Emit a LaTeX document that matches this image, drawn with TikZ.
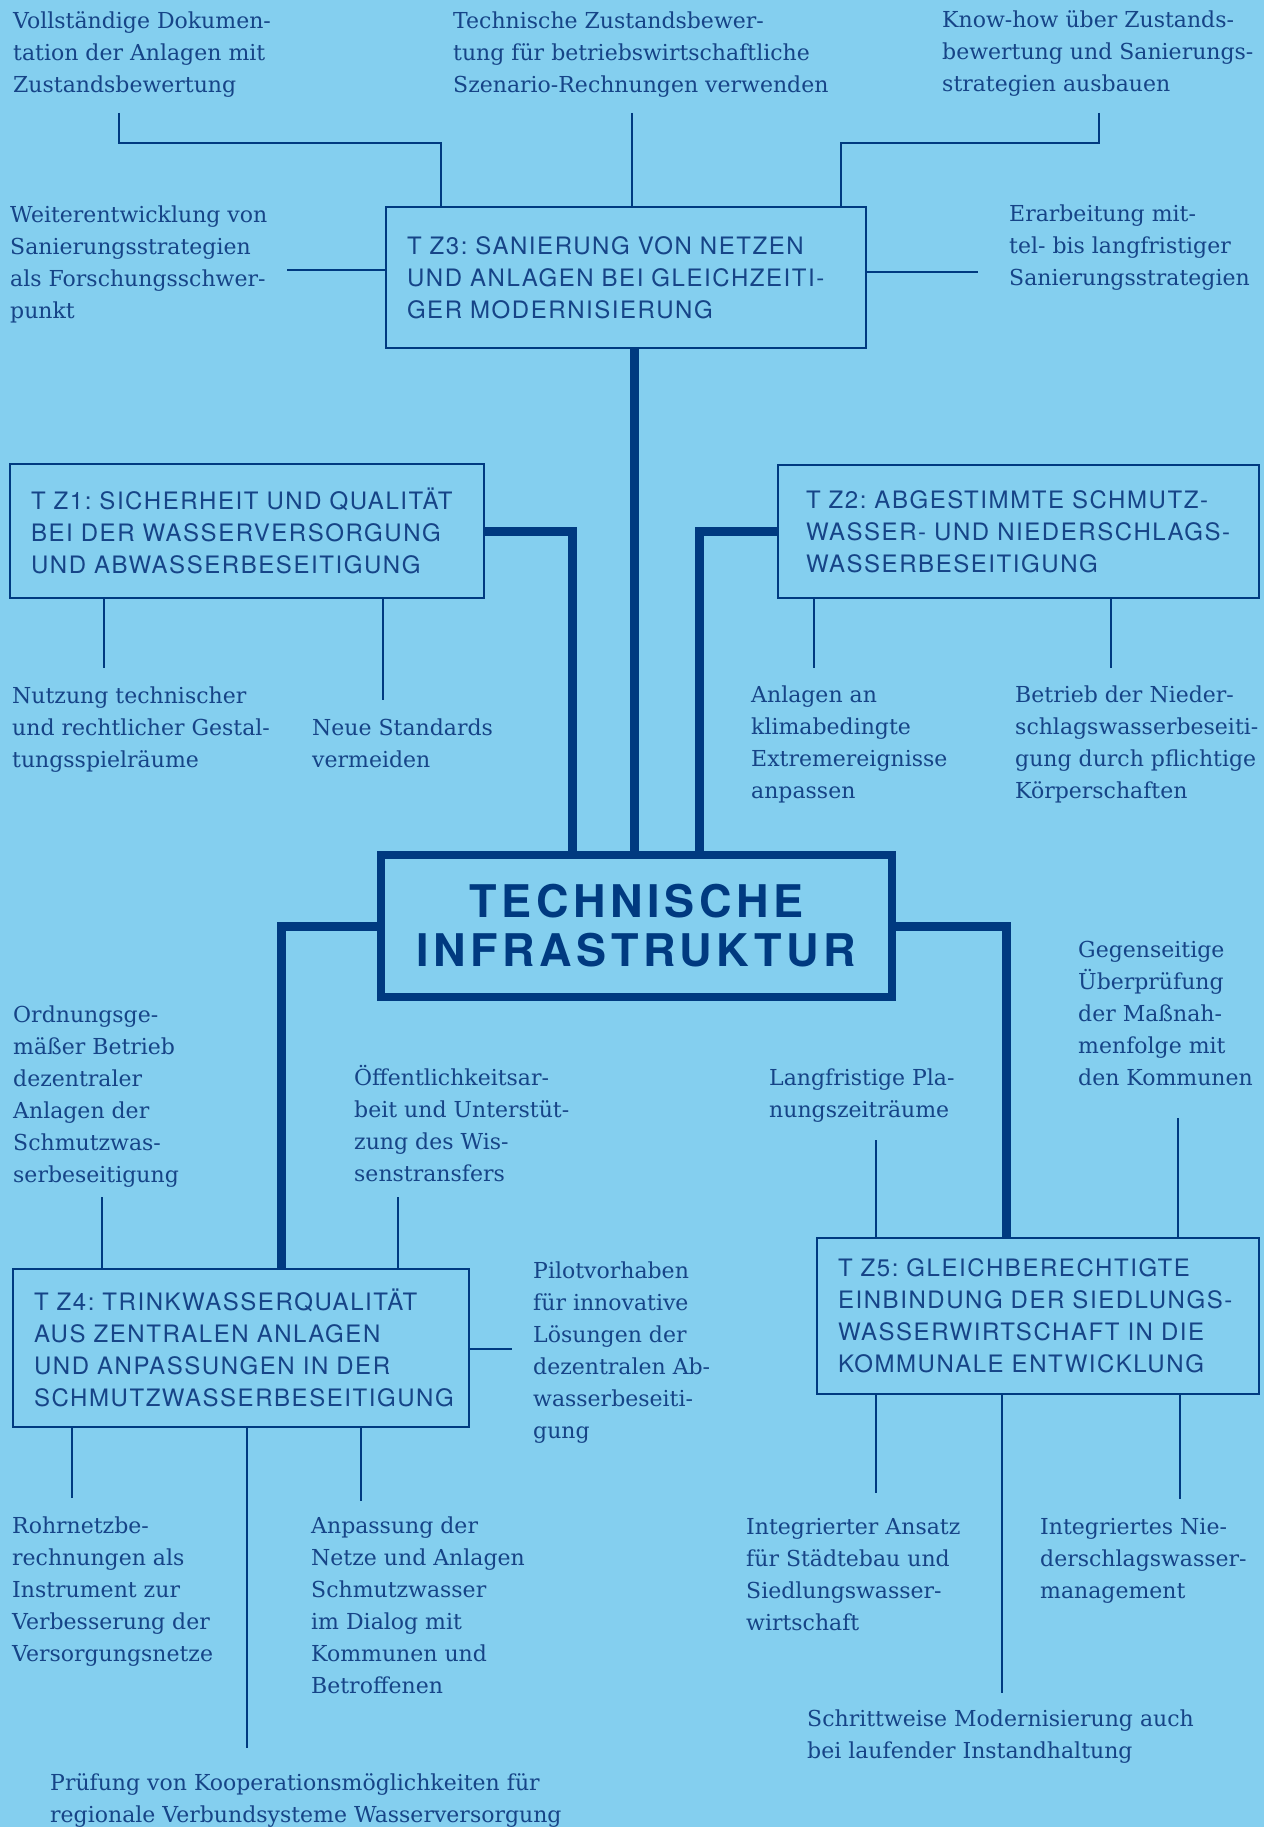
\documentclass[tikz,border=0pt]{standalone}
\usepackage{fontspec}
\setmainfont{DejaVu Serif}
\newfontfamily\kastenschrift[LetterSpace=6.5]{TeX Gyre Heros}
\newfontfamily\titelschrift[LetterSpace=10]{TeX Gyre Heros}
\usepackage{tikz}
\definecolor{hellblau}{RGB}{132,207,239}
\definecolor{dunkelblau}{RGB}{0,58,128}
\definecolor{schrift}{RGB}{22,68,135}
\frenchspacing
\tikzset{
	info/.style={anchor=base west,align=left,inner sep=0pt,text=schrift,font=\fontsize{22}{32}\selectfont},
	ziel/.style={draw=dunkelblau,line width=2.5pt,inner xsep=21pt,inner ysep=0pt,align=left,text=schrift,font=\kastenschrift\fontsize{24}{32}\selectfont},
	fein/.style={dunkelblau,line width=2.5pt},
	dick/.style={dunkelblau,line width=9pt}
}

\begin{document}
\begin{tikzpicture}[x=1pt,y=-1pt]
	\fill[hellblau] (0,0) rectangle (1264,1827);
	\useasboundingbox (0,0) rectangle (1264,1827);

%kern
	\node[draw=dunkelblau,line width=8pt,minimum width=511pt,minimum height=142pt,align=center,text=dunkelblau,font=\titelschrift\bfseries\fontsize{45}{49}\selectfont] (kern) at (636.5,926) {TECHNISCHE\\INFRASTRUKTUR};

%ziele
	\node[ziel,minimum width=480pt,minimum height=141pt,text width=438pt] (tz3) at (626,277.5) {T Z3: SANIERUNG VON NETZEN\\UND ANLAGEN BEI GLEICHZEITI-\\GER MODERNISIERUNG};
	\node[ziel,minimum width=474pt,minimum height=134pt,text width=432pt] (tz1) at (247,531) {T Z1: SICHERHEIT UND QUALITÄT\\BEI DER WASSERVERSORGUNG\\UND ABWASSERBESEITIGUNG};
	\node[ziel,inner xsep=28pt,minimum width=481pt,minimum height=133pt,text width=425pt] (tz2) at (1018.5,531.5) {T Z2: ABGESTIMMTE SCHMUTZ-\\WASSER- UND NIEDERSCHLAGS-\\WASSERBESEITIGUNG};
	\node[ziel,minimum width=456pt,minimum height=158pt,text width=414pt] (tz4) at (241,1348) {T Z4: TRINKWASSERQUALITÄT\\AUS ZENTRALEN ANLAGEN\\UND ANPASSUNGEN IN DER\\SCHMUTZWASSERBESEITIGUNG};
	\node[ziel,minimum width=442pt,minimum height=156pt,text width=400pt] (tz5) at (1038,1316) {T Z5: GLEICHBERECHTIGTE\\EINBINDUNG DER SIEDLUNGS-\\WASSERWIRTSCHAFT IN DIE\\KOMMUNALE ENTWICKLUNG};

%dicke linien
	\draw[dick] (tz3.south -| 634,0) -- (kern.north -| 634,0);
	\draw[dick] (tz1.east) -| (kern.north -| 572,0);
	\draw[dick] (tz2.west) -| (kern.north -| 699,0);
	\draw[dick] (kern.west) -| (tz4.north -| 281,0);
	\draw[dick] (kern.east) -| (tz5.north -| 1006,0);

%texte oben (an der letzten grundlinie)
	\node[info] (doku) at (13,93) {Vollständige Dokumen-\\tation der Anlagen mit\\Zustandsbewertung};
	\node[info] (szenario) at (453,93) {Technische Zustandsbewer-\\tung für betriebswirtschaftliche\\Szenario-Rechnungen verwenden};
	\node[info] (knowhow) at (942,92) {Know-how über Zustands-\\bewertung und Sanierungs-\\strategien ausbauen};
	\node[info] (weiter) at (10,318) {Weiterentwicklung von\\Sanierungsstrategien\\als Forschungsschwer-\\punkt};
	\node[info] (erarbeitung) at (1009,285) {Erarbeitung mit-\\tel- bis langfristiger\\Sanierungsstrategien};
%texte mitte
	\node[info] (nutzung) at (12,767) {Nutzung technischer\\und rechtlicher Gestal-\\tungsspielräume};
	\node[info] (standards) at (312,767) {Neue Standards\\vermeiden};
	\node[info] (anlagen) at (751,798) {Anlagen an\\klimabedingte\\Extremereignisse\\anpassen};
	\node[info] (betrieb) at (1015,798) {Betrieb der Nieder-\\schlagswasserbeseiti-\\gung durch pflichtige\\Körperschaften};
	\node[info] (ordnung) at (13,1182) {Ordnungsge-\\mäßer Betrieb\\dezentraler\\Anlagen der\\Schmutzwas-\\serbeseitigung};
	\node[info] (oeffentlich) at (354,1181) {Öffentlichkeitsar-\\beit und Unterstüt-\\zung des Wis-\\senstransfers};
	\node[info] (langfristig) at (769,1117) {Langfristige Pla-\\nungszeiträume};
	\node[info] (gegenseitig) at (1078,1085) {Gegenseitige\\Überprüfung\\der Maßnah-\\menfolge mit\\den Kommunen};
	\node[info] (pilot) at (533,1438) {Pilotvorhaben\\für innovative\\Lösungen der\\dezentralen Ab-\\wasserbeseiti-\\gung};
%texte unten
	\node[info] (rohrnetz) at (12,1661) {Rohrnetzbe-\\rechnungen als\\Instrument zur\\Verbesserung der\\Versorgungsnetze};
	\node[info] (anpassung) at (311,1693) {Anpassung der\\Netze und Anlagen\\Schmutzwasser\\im Dialog mit\\Kommunen und\\Betroffenen};
	\node[info] (pruefung) at (50,1822) {Prüfung von Kooperationsmöglichkeiten für\\regionale Verbundsysteme Wasserversorgung};
	\node[info] (ansatz) at (746,1630) {Integrierter Ansatz\\für Städtebau und\\Siedlungswasser-\\wirtschaft};
	\node[info] (niederschlag) at (1040,1598) {Integriertes Nie-\\derschlagswasser-\\management};
	\node[info] (schritt) at (807,1758) {Schrittweise Modernisierung auch\\bei laufender Instandhaltung};

%duenne linien oben
	\coordinate (doku-e) at (119,113);
	\coordinate (doku-k) at (119,143);
	\coordinate (szenario-e) at (632,113);
	\coordinate (knowhow-e) at (1099,113);
	\coordinate (knowhow-k) at (1099,143);
	\coordinate (weiter-e) at (287,270);
	\coordinate (erarbeitung-e) at (978,272);
	\draw[fein] (doku-e) -- (doku-k) -| (tz3.north -| 441,0);
	\draw[fein] (szenario-e) -- (tz3.north -| szenario-e);
	\draw[fein] (knowhow-e) -- (knowhow-k) -| (tz3.north -| 841,0);
	\draw[fein] (weiter-e) -- (tz3.west |- weiter-e);
	\draw[fein] (tz3.east |- erarbeitung-e) -- (erarbeitung-e);

	%nach unten
	\foreach \ziel/\x/\y [count=\i] in {tz1/104/668,tz1/383/700,tz2/814/668,tz2/1111/668,tz4/72/1498,tz4/247/1748,tz4/361/1501,tz5/876/1493,tz5/1002/1693,tz5/1180/1499}
	{\coordinate (u\i) at (\x,\y);
	 \draw[fein] (\ziel.south -| u\i) -- (u\i);}
	%nach oben
	\foreach \ziel/\x/\y [count=\i] in {tz4/102/1197,tz4/398/1197,tz5/876/1140,tz5/1178/1118}
	{\coordinate (o\i) at (\x,\y);
	 \draw[fein] (o\i) -- (\ziel.north -| o\i);}
	%seitlich
	\coordinate (pilot-e) at (512,1349);
	\draw[fein] (tz4.east |- pilot-e) -- (pilot-e);
\end{tikzpicture}
\end{document}
